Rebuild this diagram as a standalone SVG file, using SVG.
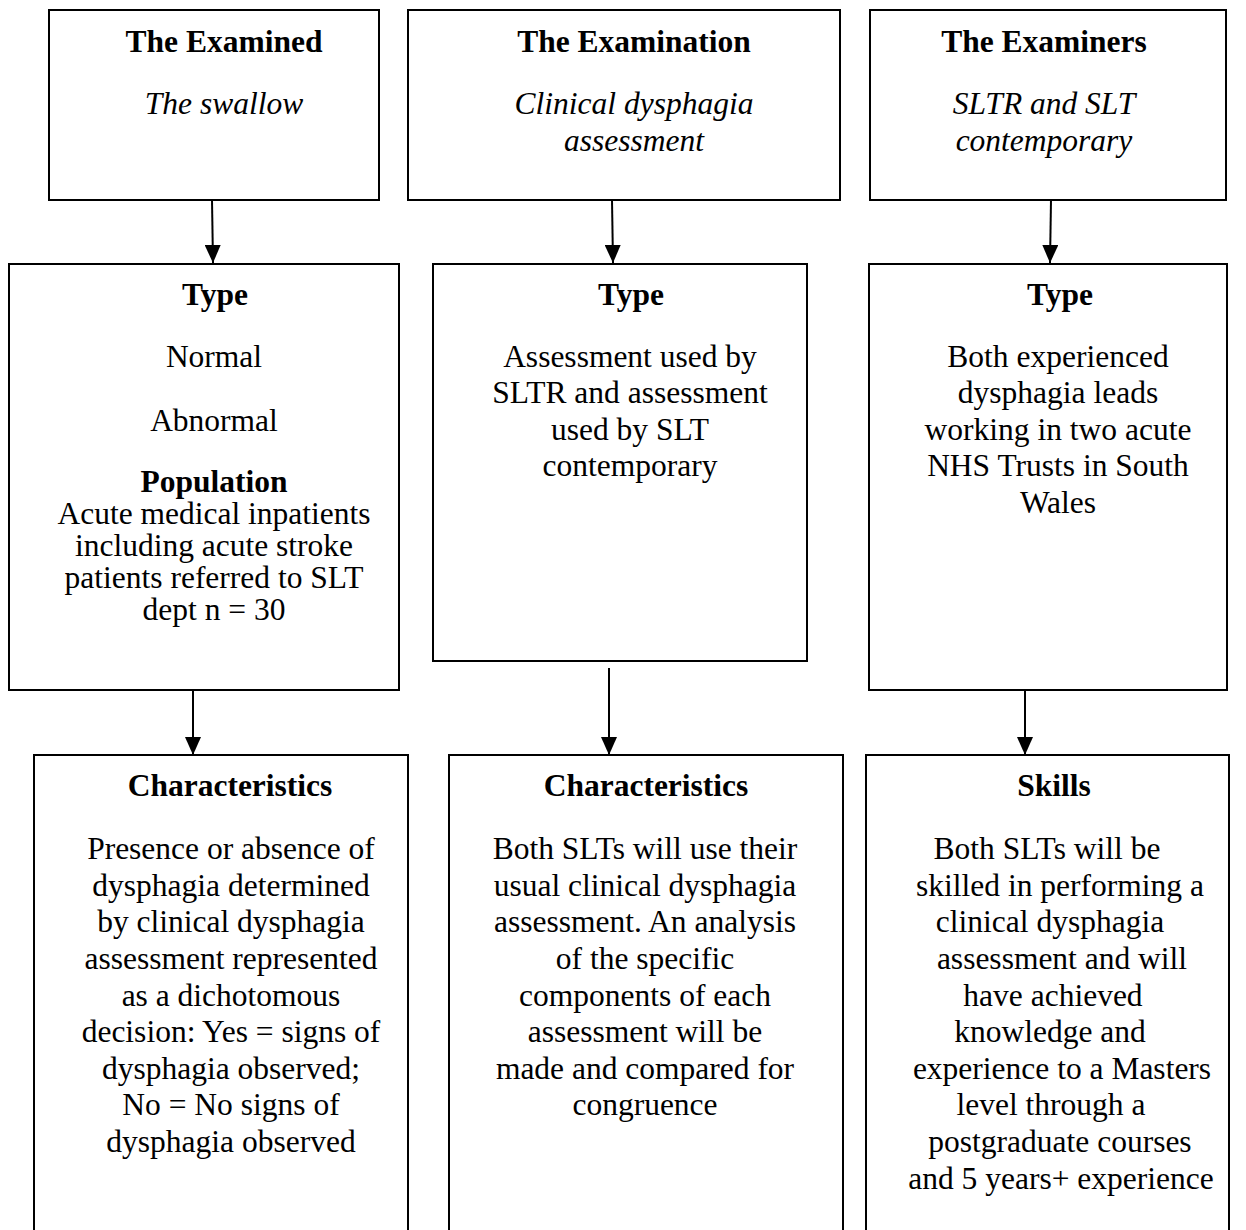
<svg xmlns="http://www.w3.org/2000/svg" width="1246" height="1230" viewBox="0 0 1246 1230">
<style>
.box{fill:#fff;stroke:#000;stroke-width:2}
text{font-family:"Liberation Serif","Times New Roman",serif;font-size:31.5px;fill:#000;text-anchor:middle}
.b{font-weight:bold}
.i{font-style:italic}
.conn line{stroke:#000;stroke-width:2}
</style>
<defs>
<marker id="arr" viewBox="0 0 18 16" refX="18" refY="8" markerWidth="18" markerHeight="16" markerUnits="userSpaceOnUse" orient="auto">
<path d="M0,0 L18,8 L0,16 z" fill="#000"/>
</marker>
</defs>
<rect width="1246" height="1230" fill="#fff"/>

<g id="examined">
<rect class="box" x="49" y="10" width="330" height="190"/>
<text class="b" x="224" y="52">The Examined</text>
<text class="i" x="224" y="114">The swallow</text>
</g>
<g id="examination">
<rect class="box" x="408" y="10" width="432" height="190"/>
<text class="b" x="634" y="52">The Examination</text>
<text class="i" x="634" y="114">Clinical dysphagia</text>
<text class="i" x="634" y="151">assessment</text>
</g>
<g id="examiners">
<rect class="box" x="870" y="10" width="356" height="190"/>
<text class="b" x="1044" y="52">The Examiners</text>
<text class="i" x="1044" y="114">SLTR and SLT</text>
<text class="i" x="1044" y="151">contemporary</text>
</g>

<g id="type1">
<rect class="box" x="9" y="264" width="390" height="426"/>
<text class="b" x="215" y="305">Type</text>
<text x="214" y="367">Normal</text>
<text x="214" y="431">Abnormal</text>
<text class="b" x="214" y="492">Population</text>
<text x="214" y="524">Acute medical inpatients</text>
<text x="214" y="556">including acute stroke</text>
<text x="214" y="588">patients referred to SLT</text>
<text x="214" y="620">dept n = 30</text>
</g>
<g id="type2">
<rect class="box" x="433" y="264" width="374" height="397"/>
<text class="b" x="631" y="305">Type</text>
<text x="630" y="367">Assessment used by</text>
<text x="630" y="403">SLTR and assessment</text>
<text x="630" y="440">used by SLT</text>
<text x="630" y="476">contemporary</text>
</g>
<g id="type3">
<rect class="box" x="869" y="264" width="358" height="426"/>
<text class="b" x="1060" y="305">Type</text>
<text x="1058" y="367">Both experienced</text>
<text x="1058" y="403">dysphagia leads</text>
<text x="1058" y="440">working in two acute</text>
<text x="1058" y="476">NHS Trusts in South</text>
<text x="1058" y="513">Wales</text>
</g>

<g id="char1">
<rect class="box" x="34" y="755" width="374" height="500"/>
<text class="b" x="230" y="796">Characteristics</text>
<text x="231" y="859">Presence or absence of</text>
<text x="231" y="896">dysphagia determined</text>
<text x="231" y="932">by clinical dysphagia</text>
<text x="231" y="969">assessment represented</text>
<text x="231" y="1006">as a dichotomous</text>
<text x="231" y="1042">decision: Yes = signs of</text>
<text x="231" y="1079">dysphagia observed;</text>
<text x="231" y="1115">No = No signs of</text>
<text x="231" y="1152">dysphagia observed</text>
</g>
<g id="char2">
<rect class="box" x="449" y="755" width="394" height="500"/>
<text class="b" x="646" y="796">Characteristics</text>
<text x="645" y="859">Both SLTs will use their</text>
<text x="645" y="896">usual clinical dysphagia</text>
<text x="645" y="932">assessment. An analysis</text>
<text x="645" y="969">of the specific</text>
<text x="645" y="1006">components of each</text>
<text x="645" y="1042">assessment will be</text>
<text x="645" y="1079">made and compared for</text>
<text x="645" y="1115">congruence</text>
</g>
<g id="skills">
<rect class="box" x="866" y="755" width="363" height="500"/>
<text class="b" x="1054" y="796">Skills</text>
<text x="1047" y="859">Both SLTs will be</text>
<text x="1060" y="896">skilled in performing a</text>
<text x="1050" y="932">clinical dysphagia</text>
<text x="1062" y="969">assessment and will</text>
<text x="1053" y="1006">have achieved</text>
<text x="1050" y="1042">knowledge and</text>
<text x="1062" y="1079">experience to a Masters</text>
<text x="1051" y="1115">level through a</text>
<text x="1060" y="1152">postgraduate courses</text>
<text x="1061" y="1189">and 5 years+ experience</text>
</g>

<g id="connectors" class="conn">
<line x1="212" y1="200" x2="213" y2="263" marker-end="url(#arr)"/>
<line x1="612" y1="200" x2="613" y2="263" marker-end="url(#arr)"/>
<line x1="1051" y1="200" x2="1050" y2="263" marker-end="url(#arr)"/>
<line x1="193" y1="690" x2="193" y2="755" marker-end="url(#arr)"/>
<line x1="609" y1="668" x2="609" y2="755" marker-end="url(#arr)"/>
<line x1="1025" y1="690" x2="1025" y2="755" marker-end="url(#arr)"/>
</g>
</svg>
